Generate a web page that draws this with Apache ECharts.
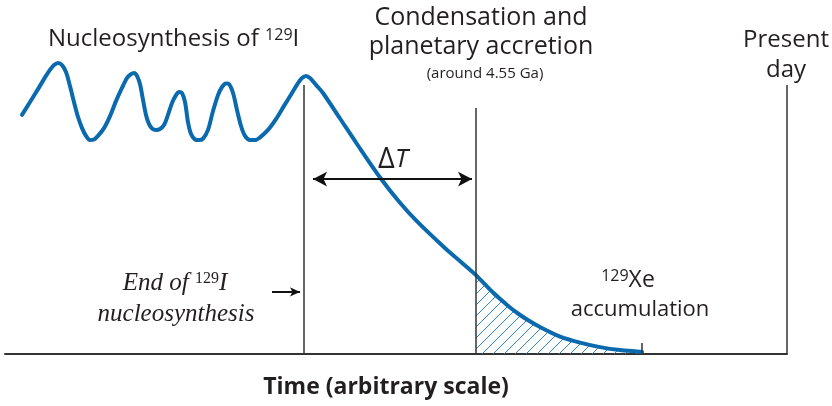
<!DOCTYPE html>
<html>
<head>
<meta charset="utf-8">
<script src="https://cdn.jsdelivr.net/npm/echarts@6/dist/echarts.min.js"></script>
<style>
  html, body { margin: 0; padding: 0; background: #fff; }
  #chart { width: 832px; height: 406px; }
</style>
</head>
<body>
<div id="chart"></div>
<script>
// time on an arbitrary 0-100 scale, 129I abundance on an arbitrary 0-100 scale
const curveTime = [
  2.17, 3.20, 4.22, 5.24, 5.75, 6.27, 6.78, 7.29, 7.80, 8.31,
  8.82, 9.34, 9.85, 10.36, 10.87, 11.38, 11.89, 12.66, 13.43, 14.19,
  14.96, 15.60, 16.11, 16.50, 16.88, 17.26, 17.65, 18.03, 18.41, 18.80,
  19.31, 19.82, 20.33, 20.84, 21.36, 21.87, 22.25, 22.63, 23.02, 23.40,
  23.79, 24.30, 24.81, 25.32, 25.96, 26.60, 27.24, 27.75, 28.26, 28.64,
  29.16, 29.67, 30.18, 30.69, 31.33, 31.97, 32.61, 33.63, 34.65, 35.68,
  36.70, 37.47, 37.98, 38.49, 39.00, 39.77, 40.66, 42.84, 45.01, 48.08,
  50.51, 52.69, 56.39, 58.31, 60.23, 61.38, 62.40, 63.55, 64.58, 65.60,
  66.75, 68.41, 70.97, 73.53, 76.09, 78.64, 81.46
]
const curveLevel = [
  79.7, 84.0, 88.3, 92.7, 94.7, 96.3, 97.0, 96.3, 94.0, 89.3,
  84.0, 79.0, 75.3, 72.7, 71.3, 71.5, 72.7, 75.3, 79.3, 84.3,
  88.7, 92.0, 93.3, 93.7, 92.7, 90.0, 84.7, 79.7, 76.7, 75.2,
  74.7, 75.0, 76.3, 79.7, 83.7, 86.3, 87.3, 87.0, 84.0, 77.3,
  73.3, 71.5, 71.3, 71.8, 74.7, 81.0, 86.3, 89.0, 90.2, 90.0,
  87.0, 81.3, 76.0, 72.7, 71.3, 71.3, 72.2, 74.7, 78.3, 82.7,
  87.0, 90.3, 92.0, 92.7, 92.0, 89.7, 87.0, 78.5, 70.0, 58.4,
  50.4, 44.2, 35.0, 30.7, 26.3, 23.2, 20.5, 17.8, 15.5, 13.5,
  11.5, 9.0, 5.8, 3.8, 2.3, 1.3, 0.7
]

// vertical markers: end of nucleosynthesis, condensation, present day
const eventTime = [38.24, 60.23, 100]
const eventTop = [89.7, 82.0, 89.7]
// small tick where the decay curve meets the time axis
const tailTick = [81.46, 3.7]
// delta T arrow: from, to, level
const deltaArrow = [39.39, 59.72, 58.3]
// pointer next to "End of 129I nucleosynthesis": from, to, level
const endArrow = [34.14, 37.72, 20.7]

const condensation = eventTime[1]
const curveData = curveTime.map((t, i) => [t, curveLevel[i]])
const xeData = curveData.filter(p => p[0] >= condensation)

const ink = '#231f20'
const blue = '#0b69ad'
const sans = "'Open Sans', 'Noto Sans', sans-serif"
const serif = "'Liberation Serif', serif"

function hatchPattern() {
  const n = 11
  const c = document.createElement('canvas')
  c.width = n
  c.height = n
  const ctx = c.getContext('2d')
  ctx.strokeStyle = '#2f86c8'
  ctx.lineWidth = 1
  ctx.beginPath()
  ctx.moveTo(0, n); ctx.lineTo(n, 0)
  ctx.moveTo(-1, 1); ctx.lineTo(1, -1)
  ctx.moveTo(n - 1, n + 1); ctx.lineTo(n + 1, n - 1)
  ctx.stroke()
  return c
}

function label(x, y, text, rich, extra) {
  return {
    type: 'text',
    x: x,
    y: y,
    style: Object.assign({
      text: text,
      rich: rich,
      align: 'center',
      verticalAlign: 'middle',
      fill: ink,
      fontFamily: sans,
      fontSize: 24
    }, extra || {})
  }
}

const sansRich = {
  m: { fontFamily: sans, fontSize: 24, fill: ink, verticalAlign: 'top' },
  s: { fontFamily: sans, fontSize: 16, fill: ink, verticalAlign: 'top' }
}
const xeRich = {
  m: { fontFamily: sans, fontSize: 23, fill: ink, verticalAlign: 'top' },
  s: { fontFamily: sans, fontSize: 16, fill: ink, verticalAlign: 'top' }
}
const serifRich = {
  m: { fontFamily: serif, fontStyle: 'italic', fontSize: 25, fill: ink, verticalAlign: 'top' },
  s: { fontFamily: serif, fontSize: 16, fill: ink, verticalAlign: 'top' }
}

const chart = echarts.init(document.getElementById('chart'))

chart.setOption({
  animation: false,
  grid: { left: 5, right: 45, top: 54, bottom: 52 },
  xAxis: {
    type: 'value',
    min: 0,
    max: 100,
    axisLine: { lineStyle: { color: '#333', width: 2 } },
    axisTick: { show: false },
    axisLabel: { show: false },
    splitLine: { show: false }
  },
  yAxis: {
    type: 'value',
    min: 0,
    max: 100,
    show: false
  },
  series: [
    {
      name: 'markers',
      type: 'line',
      data: [],
      silent: true,
      markLine: {
        symbol: 'none',
        silent: true,
        label: { show: false },
        lineStyle: { color: '#333', width: 1.5, type: 'solid' },
        data: eventTime.map((t, i) => [{ coord: [t, 0] }, { coord: [t, eventTop[i]] }])
          .concat([[{ coord: [tailTick[0], 0] }, { coord: [tailTick[0], tailTick[1]] }]])
      }
    },
    {
      name: 'arrows',
      type: 'line',
      data: [],
      silent: true,
      markLine: {
        silent: true,
        label: { show: false },
        lineStyle: { color: '#111', width: 2, type: 'solid' },
        data: [
          [
            { coord: [deltaArrow[0], deltaArrow[2]], symbol: 'arrow', symbolSize: [11, 14] },
            { coord: [deltaArrow[1], deltaArrow[2]], symbol: 'arrow', symbolSize: [11, 14] }
          ],
          [
            { coord: [endArrow[0], endArrow[2]], symbol: 'none' },
            { coord: [endArrow[1], endArrow[2]], symbol: 'arrow', symbolSize: [7, 10] }
          ]
        ]
      }
    },
    {
      name: '129Xe',
      type: 'line',
      data: xeData,
      smooth: 0.3,
      showSymbol: false,
      lineStyle: { width: 0 },
      areaStyle: { color: { image: hatchPattern(), repeat: 'repeat' }, opacity: 1 },
      z: 1
    },
    {
      name: '129I',
      type: 'line',
      data: curveData,
      smooth: 0.3,
      showSymbol: false,
      lineStyle: { color: blue, width: 4, cap: 'round', join: 'round' },
      z: 3
    }
  ],
  graphic: [
    label(48, 39, '{m|Nucleosynthesis of }{s|129}{m|I}', sansRich, { align: 'left' }),
    label(481, 18, 'Condensation and', null, { fontSize: 25 }),
    label(481, 47, 'planetary accretion', null, { fontSize: 25 }),
    label(485, 74, '(around 4.55 Ga)', null, { fontSize: 15 }),
    label(786, 40, 'Present'),
    label(786, 70, 'day'),
    label(393, 160, '{d|Δ}{t|T}', {
      d: { fontFamily: sans, fontSize: 29, fill: ink },
      t: { fontFamily: sans, fontStyle: 'italic', fontSize: 26, fill: ink }
    }),
    label(175, 283, '{m|End of }{s|129}{m|I}', serifRich),
    label(176, 314, 'nucleosynthesis', null, { fontFamily: serif, fontStyle: 'italic', fontSize: 25 }),
    label(628, 280, '{s|129}{m|Xe}', xeRich),
    label(640, 310, 'accumulation', null, { fontSize: 22 }),
    label(386, 387, 'Time (arbitrary scale)', null, { fontSize: 23, fontWeight: 'bold' })
  ]
})
</script>
</body>
</html>
